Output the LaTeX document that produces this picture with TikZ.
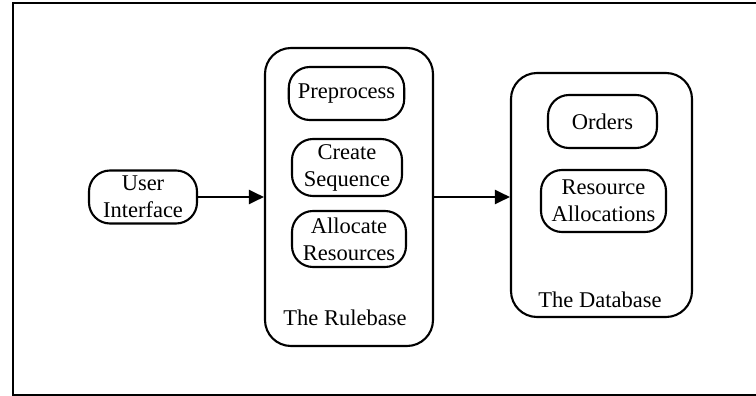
\documentclass[tikz,border=0pt]{standalone}
\usepackage{fontspec}
\setmainfont{Liberation Serif}
\usetikzlibrary{shapes,arrows,arrows.meta,positioning}

\begin{document}
\begin{tikzpicture}[
        x=1pt, y=-1pt,
        font=\fontsize{22.5}{27}\selectfont,
        part/.style={
            draw,
            line width=2.1pt,
            rounded corners=21pt,
            align=center,
            inner xsep=9pt,
            inner ysep=2pt,
            minimum height=53pt
            },
        group/.style={
            draw,
            line width=2.1pt,
            rounded corners=26pt
            },
        flow/.style={
            -{Triangle[length=15pt,width=14pt]},
            line width=2.1pt
            }
    ]
                \useasboundingbox (0,0) rectangle (756,396);

                % frame
                \draw[line width=1.8pt] (756,3) -- (13,3) -- (13,395) -- (756,395);

                % containers
                \node[group, minimum width=168pt, minimum height=298pt] (rulebase) at (349,197) {};
                \node[group, minimum width=181pt, minimum height=244pt] (database) at (601.5,195) {};

                \node (rulelabel) at (345,318) {The Rulebase};
                \node (datalabel) at (600,300) {The Database};

                % parts
                \node[part, minimum width=108pt] (ui) at (143,197) {User\\Interface};

                \node[part, minimum width=115pt] (preprocess) at (346.5,93.5) {Preprocess};
                \node[part, minimum height=57pt, minimum width=110pt] (sequence) at (347,167.5) {Create\\Sequence};
                \node[part, minimum height=56pt, minimum width=114pt] (allocate) at (349,239) {Allocate\\Resources};

                \node[part, minimum width=109pt] (orders) at (602.5,121.5) {Orders};
                \node[part, minimum height=62pt, minimum width=125pt] (allocations) at (603.5,201) {Resource\\Allocations};

                % connectors
                \draw[flow] (ui.east) -- (ui.east -| rulebase.west);
                \draw[flow] (rulebase.east |- ui.east) -- (ui.east -| database.west);

\end{tikzpicture}
\end{document}
